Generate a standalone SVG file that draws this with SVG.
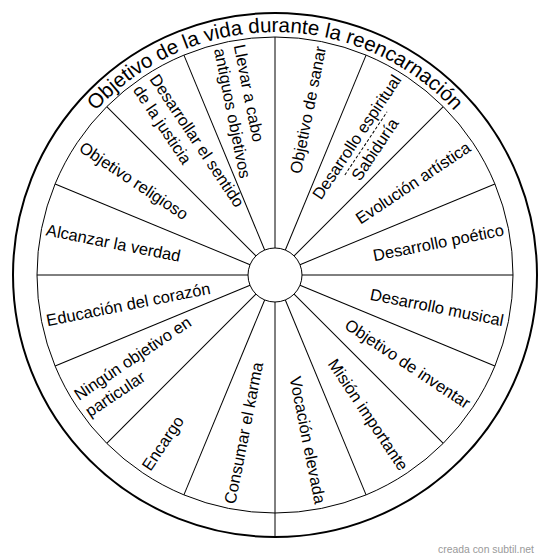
<svg xmlns="http://www.w3.org/2000/svg" width="550" height="560" viewBox="0 0 550 560">
<style>
.lbl{font-family:"Liberation Sans",Arial,sans-serif;font-size:16.5px;fill:#000}
.title{font-family:"Liberation Sans",Arial,sans-serif;font-size:20.6px;fill:#000}
.wm{font-family:"Liberation Sans",Arial,sans-serif;font-size:10.4px;fill:#999}
.ring{fill:none;stroke:#000;stroke-width:1}
.spoke line{stroke:#000;stroke-width:1}
</style>
<defs>
<path id="titleArc" d="M 32 275 A 243 243 0 0 1 518 275"/>
</defs>
<rect width="550" height="560" fill="#fff"/>
<g id="wheel">
<circle cx="275" cy="275" r="262" fill="#fff" stroke="#000" stroke-width="2"/>
<circle class="ring" cx="275" cy="275" r="238"/>
</g>
<g id="title">
<text class="title"><textPath href="#titleArc" startOffset="50%" text-anchor="middle">Objetivo de la vida durante la reencarnación</textPath></text>
</g>
<g id="connectors" class="spoke">
<line x1="275" y1="248" x2="275" y2="37"/>
<line x1="275" y1="248" x2="275" y2="37" transform="rotate(22.5 275 275)"/>
<line x1="275" y1="248" x2="275" y2="37" transform="rotate(45 275 275)"/>
<line x1="275" y1="248" x2="275" y2="37" transform="rotate(67.5 275 275)"/>
<line x1="302" y1="275" x2="513" y2="275"/>
<line x1="275" y1="248" x2="275" y2="37" transform="rotate(112.5 275 275)"/>
<line x1="275" y1="248" x2="275" y2="37" transform="rotate(135 275 275)"/>
<line x1="275" y1="248" x2="275" y2="37" transform="rotate(157.5 275 275)"/>
<line x1="275" y1="302" x2="275" y2="537"/>
<line x1="275" y1="248" x2="275" y2="37" transform="rotate(202.5 275 275)"/>
<line x1="275" y1="248" x2="275" y2="37" transform="rotate(225 275 275)"/>
<line x1="275" y1="248" x2="275" y2="37" transform="rotate(247.5 275 275)"/>
<line x1="248" y1="275" x2="37" y2="275"/>
<line x1="275" y1="248" x2="275" y2="37" transform="rotate(292.5 275 275)"/>
<line x1="275" y1="248" x2="275" y2="37" transform="rotate(315 275 275)"/>
<line x1="275" y1="248" x2="275" y2="37" transform="rotate(337.5 275 275)"/>
</g>
<g id="hub"><circle class="ring" cx="275" cy="275" r="27" fill="#fff"/></g>
<g id="seg-sanar" transform="translate(275 275) rotate(-78.75)"><text class="lbl" x="233" y="5.8" text-anchor="end">Objetivo de sanar</text></g>
<g id="seg-espiritual" transform="translate(275 275) rotate(-56.25)">
<text class="lbl" x="233" y="-3" text-anchor="end">Desarrollo espiritual</text>
<line x1="122" y1="2.5" x2="198" y2="2.5" stroke="#000" stroke-width="1" stroke-dasharray="3 2"/>
<text class="lbl" x="160" y="19" text-anchor="middle">Sabiduría</text>
</g>
<g id="seg-artistica" transform="translate(275 275) rotate(-33.75)"><text class="lbl" x="233" y="5.8" text-anchor="end">Evolución artística</text></g>
<g id="seg-poetico" transform="translate(275 275) rotate(-11.25)"><text class="lbl" x="233" y="5.8" text-anchor="end">Desarrollo poético</text></g>
<g id="seg-musical" transform="translate(275 275) rotate(11.25)"><text class="lbl" x="233" y="5.8" text-anchor="end">Desarrollo musical</text></g>
<g id="seg-inventar" transform="translate(275 275) rotate(33.75)"><text class="lbl" x="233" y="5.8" text-anchor="end">Objetivo de inventar</text></g>
<g id="seg-mision" transform="translate(275 275) rotate(56.25)"><text class="lbl" x="233" y="5.8" text-anchor="end">Misión importante</text></g>
<g id="seg-vocacion" transform="translate(275 275) rotate(78.75)"><text class="lbl" x="233" y="5.8" text-anchor="end">Vocación elevada</text></g>
<g id="seg-karma" transform="translate(275 275) rotate(-78.75)"><text class="lbl" x="-233" y="5.8">Consumar el karma</text></g>
<g id="seg-encargo" transform="translate(275 275) rotate(-56.25)"><text class="lbl" x="-233" y="5.8">Encargo</text></g>
<g id="seg-ninguno" transform="translate(275 275) rotate(-33.75)">
<text class="lbl" x="-233" y="-4.2">Ningún objetivo en</text>
<text class="lbl" x="-233" y="15.8">particular</text>
</g>
<g id="seg-corazon" transform="translate(275 275) rotate(-11.25)"><text class="lbl" x="-233" y="5.8">Educación del corazón</text></g>
<g id="seg-verdad" transform="translate(275 275) rotate(11.25)"><text class="lbl" x="-233" y="5.8">Alcanzar la verdad</text></g>
<g id="seg-religioso" transform="translate(275 275) rotate(33.75)"><text class="lbl" x="-233" y="5.8">Objetivo religioso</text></g>
<g id="seg-justicia" transform="translate(275 275) rotate(56.25)">
<text class="lbl" x="-233" y="-4.2">Desarrollar el sentido</text>
<text class="lbl" x="-233" y="15.8">de la justicia</text>
</g>
<g id="seg-antiguos" transform="translate(275 275) rotate(78.75)">
<text class="lbl" x="-233" y="-4.2">Llevar a cabo</text>
<text class="lbl" x="-233" y="15.8">antiguos objetivos</text>
</g>
<text class="wm" x="438" y="553">creada con subtil.net</text>
</svg>
